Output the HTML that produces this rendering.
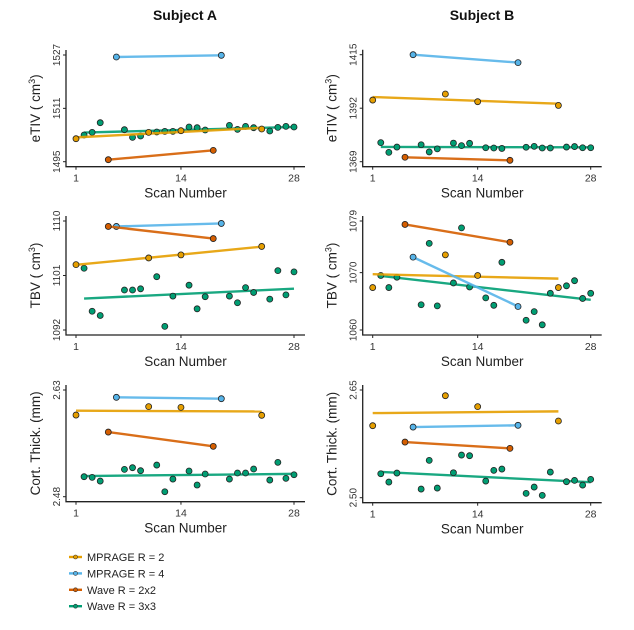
<!DOCTYPE html>
<html><head><meta charset="utf-8"><style>
body{margin:0;background:#fff;}
svg{display:block;font-family:"Liberation Sans",sans-serif;}
</style></head><body>
<svg id="c" width="634" height="630"></svg>
<script>
const scans = {
  mp2:[1,10,14,24],
  mp4:[6,19],
  w2:[5,18],
  w3:[2,3,4,7,8,9,11,12,13,15,16,17,20,21,22,23,25,26,27,28]
};
const etivA_mp2=[1501.9,1503.8,1504.3,1504.8];
const etivA_mp4=[1526.4,1526.9];
const etivA_w2=[1495.6,1498.4];
const etivA_w3=[1503.0,1503.8,1506.7,1504.6,1502.3,1502.7,1503.9,1504.1,1504.1,1505.4,1505.2,1504.5,1505.9,1504.7,1505.6,1505.2,1504.2,1505.3,1505.6,1505.4];
const etivB_mp2=[1395.5,1398.1,1394.8,1393.2];
const etivB_mp4=[1415.0,1411.6];
const etivB_w2=[1370.9,1369.6];
const etivB_w3=[1377.2,1373.0,1375.3,1376.3,1373.2,1374.5,1377.0,1375.9,1376.9,1375.0,1374.9,1374.7,1375.2,1375.6,1374.9,1374.9,1375.3,1375.5,1375.0,1375.0];
const tbvA_mp2=[1102.8,1103.9,1104.4,1105.8];
const tbvA_mp4=[1109.1,1109.6];
const tbvA_w2=[1109.1,1107.1];
const tbvA_w3=[1102.2,1095.1,1094.4,1098.6,1098.6,1098.8,1100.8,1092.6,1097.6,1099.4,1095.5,1097.5,1097.6,1096.5,1099.0,1098.2,1097.1,1101.8,1097.8,1101.6];
const tbvB_mp2=[1067.4,1073.1,1069.5,1067.4];
const tbvB_mp4=[1072.7,1064.1];
const tbvB_w2=[1078.4,1075.3];
const tbvB_w3=[1069.5,1067.4,1069.2,1064.4,1075.1,1064.2,1068.2,1077.8,1067.5,1065.6,1064.3,1071.8,1061.7,1063.2,1060.9,1066.4,1067.7,1068.6,1065.5,1066.4];
const ctA_mp2=[2.5948,2.6066,2.6056,2.5944];
const ctA_mp4=[2.6197,2.6178];
const ctA_w2=[2.5709,2.5508];
const ctA_w3=[2.5081,2.5072,2.502,2.5184,2.5208,2.5166,2.5245,2.487,2.5048,2.5161,2.4964,2.5119,2.5048,2.5133,2.5133,2.5189,2.5034,2.5283,2.5058,2.5109];
const ctB_mp2=[2.6003,2.6421,2.6268,2.6068];
const ctB_mp4=[2.5984,2.6008];
const ctB_w2=[2.5775,2.5687];
const ctB_w3=[2.5334,2.5218,2.5343,2.512,2.552,2.5134,2.5348,2.5594,2.5585,2.5232,2.5381,2.5399,2.506,2.5148,2.5032,2.5357,2.5223,2.5241,2.5176,2.5255];
const xTicks=[1,14,28];
const legendLabels=["MPRAGE R = 2","MPRAGE R = 4","Wave R = 2x2","Wave R = 3x3"];
const colors={mp2:"#E69F00",mp4:"#56B4E9",w2:"#D55E00",w3:"#009E73"};

const NS="http://www.w3.org/2000/svg";
const svg=document.getElementById('c');
function el(tag,attrs,parent,text){const e=document.createElementNS(NS,tag);for(const k in attrs)e.setAttribute(k,attrs[k]);if(text!==undefined)e.textContent=text;(parent||svg).appendChild(e);return e;}

function panel(o){
  const g=el('g',{});
  
  
  const x=v=>o.x1+(v-1)*(o.x28-o.x1)/27;
  const y=v=>o.pLo+(v-o.lo)*(o.pHi-o.pLo)/(o.hi-o.lo);
  const ax=o.x1-10, bot=o.pLo+5;
  const axes=el('path',{d:`M${ax},${o.pHi-5}V${bot}H${o.x28+11}`,fill:'none',stroke:'#222','stroke-width':1.3},g);
  
  
  xTicks.forEach(t=>{
    el('line',{x1:x(t),x2:x(t),y1:bot,y2:bot+3,stroke:'#222','stroke-width':1},g);
    const tl=el('text',{x:x(t),y:bot+15,'text-anchor':'middle','font-size':10.5,fill:'#333'},g,t);
    
    
  });
  o.ticks.forEach(t=>{
    el('line',{x1:ax-3,x2:ax,y1:y(t),y2:y(t),stroke:'#222','stroke-width':1},g);
    const yl=el('text',{x:0,y:0,transform:`translate(${ax-6},${y(t)}) rotate(-90)`,'text-anchor':'middle','font-size':10,fill:'#333'},g,o.fmt?t.toFixed(2):t);
    
    
  });
  const xt=el('text',{x:(ax+o.x28+11)/2,y:bot+31,'text-anchor':'middle','font-size':13.5,fill:'#222'},g,'Scan Number');
  
  
  const yt=el('text',{x:0,y:0,transform:`translate(${ax-26},${(o.pHi+o.pLo)/2}) rotate(-90)`,'text-anchor':'middle','font-size':13.5,fill:'#222'},g);
  
  
  if(o.sup){yt.appendChild(document.createTextNode(o.title+' ( cm'));const s=el('tspan',{dy:-5,'font-size':9},yt,'3');el('tspan',{dy:5},yt,')');}
  else yt.textContent=o.title;
  ['w3','mp2','mp4','w2'].forEach(k=>{
    const xs=scans[k], ys=o.data[k], n=xs.length;
    const mx=xs.reduce((a,b)=>a+b)/n, my=ys.reduce((a,b)=>a+b)/n;
    let sxy=0,sxx=0;for(let i=0;i<n;i++){sxy+=(xs[i]-mx)*(ys[i]-my);sxx+=(xs[i]-mx)**2;}
    const b=sxy/sxx,a=my-b*mx;
    const xa=xs[0],xb=xs[n-1];
    const ln=el('line',{x1:x(xa),y1:y(a+b*xa),x2:x(xb),y2:y(a+b*xb),stroke:colors[k],'stroke-width':2.4,'stroke-opacity':0.9},g);
    
    
    for(let i=0;i<n;i++){
      const c=el('circle',{cx:x(xs[i]),cy:y(ys[i]),r:3,fill:colors[k],stroke:'#222','stroke-width':0.8},g);
      
      
    }
  });
}
const A={x1:76,x28:294}, B={x1:372.7,x28:590.7};
panel({...A,name:'etiv-subject-a',lo:1495,hi:1527,pLo:161.7,pHi:55,ticks:[1495,1511,1527],title:'eTIV',sup:true,data:{mp2:etivA_mp2,mp4:etivA_mp4,w2:etivA_w2,w3:etivA_w3}});
panel({...B,name:'etiv-subject-b',lo:1369,hi:1415,pLo:161.7,pHi:54.7,ticks:[1369,1392,1415],title:'eTIV',sup:true,data:{mp2:etivB_mp2,mp4:etivB_mp4,w2:etivB_w2,w3:etivB_w3}});
panel({...A,name:'tbv-subject-a',lo:1092,hi:1110,pLo:330,pHi:221,ticks:[1092,1101,1110],title:'TBV',sup:true,data:{mp2:tbvA_mp2,mp4:tbvA_mp4,w2:tbvA_w2,w3:tbvA_w3}});
panel({...B,name:'tbv-subject-b',lo:1060,hi:1079,pLo:330,pHi:221,ticks:[1060,1070,1079],title:'TBV',sup:true,data:{mp2:tbvB_mp2,mp4:tbvB_mp4,w2:tbvB_w2,w3:tbvB_w3}});
panel({...A,name:'thickness-subject-a',lo:2.48,hi:2.63,pLo:496.7,pHi:390,ticks:[2.48,2.63],fmt:true,title:'Cort. Thick. (mm)',data:{mp2:ctA_mp2,mp4:ctA_mp4,w2:ctA_w2,w3:ctA_w3}});
panel({...B,name:'thickness-subject-b',lo:2.50,hi:2.65,pLo:497.7,pHi:390,ticks:[2.50,2.65],fmt:true,title:'Cort. Thick. (mm)',data:{mp2:ctB_mp2,mp4:ctB_mp4,w2:ctB_w2,w3:ctB_w3}});
[['Subject A',185],['Subject B',482]].forEach(([t,cx])=>{
  const e=el('text',{x:cx,y:20,'text-anchor':'middle','font-size':14,'font-weight':'bold',fill:'#111'},svg,t);
  
  
});
const lg=el('g',{});


['mp2','mp4','w2','w3'].forEach((k,i)=>{
  const yy=557+i*16.4;
  const it=el('g',{},lg);
  
  
  el('line',{x1:69,x2:82,y1:yy,y2:yy,stroke:colors[k],'stroke-width':2.4},it);
  el('circle',{cx:75.5,cy:yy,r:2,fill:colors[k],stroke:'#333','stroke-width':0.6},it);
  el('text',{x:87,y:yy+4,'font-size':11,fill:'#222'},it,legendLabels[i]);
});
</script>
</body></html>
